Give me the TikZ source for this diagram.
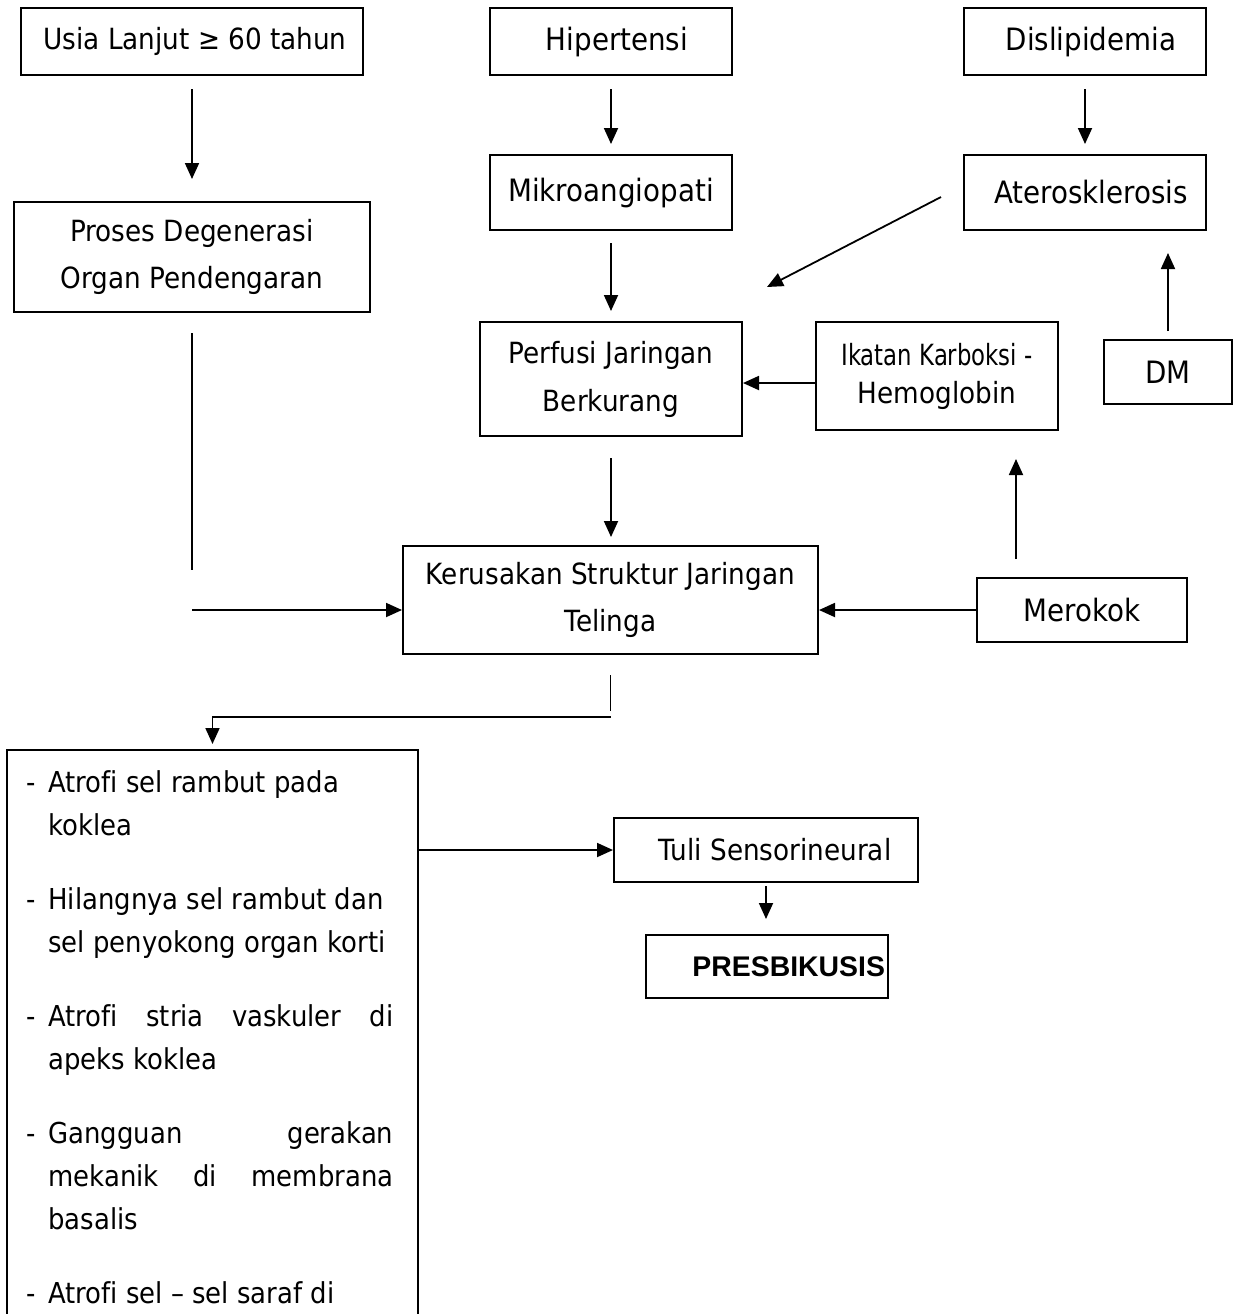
\documentclass[tikz,border=0pt]{standalone}
\usepackage{fontspec}
\setmainfont{DejaVu Sans}[FakeStretch=0.9, Ligatures=NoCommon]
\newfontfamily\sempit{DejaVu Sans}[FakeStretch=0.78]
\newfontfamily\tebal{Liberation Sans}
\usepackage{tikz}
\usetikzlibrary{arrows.meta, positioning}

\tikzset{
  kotak/.style={rectangle, draw, line width=1pt, inner sep=0pt, align=center, font=\fontsize{14.6}{23.5}\selectfont},
  besar/.style={font=\fontsize{15.4}{17}\selectfont},
  panah/.style={->, line width=0.9pt},
  garis/.style={line width=0.9pt},
  >={Triangle[length=8pt,width=7pt]}
}

\begin{document}
\begin{tikzpicture}[x=0.5pt, y=-0.5pt]
        \useasboundingbox (0,0) rectangle (1235,1314);
        \clip (0,0) rectangle (1235,1314);

        \node[kotak, minimum width=171pt, minimum height=33.5pt] (usia) at (192,41.5) {\hspace*{3pt}Usia Lanjut ≥ 60 tahun};
        \node[kotak, minimum width=178pt, minimum height=55pt] (proses) at (192,257) {Proses Degenerasi\\Organ Pendengaran};
        \node[kotak, besar, minimum width=121pt, minimum height=33.5pt] (hipertensi) at (611,41.5) {\hspace*{6pt}Hipertensi};
        \node[kotak, besar, minimum width=121pt, minimum height=37.5pt] (mikro) at (611,192.5) {Mikroangiopati};
        \node[kotak, besar, minimum width=121pt, minimum height=33.5pt] (dislip) at (1085,41.5) {\hspace*{6pt}Dislipidemia};
        \node[kotak, besar, minimum width=121pt, minimum height=37.5pt] (atero) at (1085,192.5) {\hspace*{6pt}Aterosklerosis};
        \node[kotak, minimum width=131pt, minimum height=57pt, font=\fontsize{14.6}{24}\selectfont] (perfusi) at (611,379) {Perfusi Jaringan\\Berkurang};
        \node[kotak, minimum width=121pt, minimum height=54pt, font=\fontsize{14.6}{19}\selectfont] (ikatan) at (937,376) {{\sempit Ikatan Karboksi -}\\Hemoglobin};
        \node[kotak, besar, minimum width=64pt, minimum height=32pt] (dm) at (1168,372) {DM};
        \node[kotak, minimum width=207.5pt, minimum height=54pt] (kerusakan) at (610.5,600) {Kerusakan Struktur Jaringan\\Telinga};
        \node[kotak, besar, minimum width=105pt, minimum height=32pt] (merokok) at (1082,610) {Merokok};
        \node[kotak, minimum width=205.5pt, minimum height=330pt] (dampak) at (212.5,1080) {};
        \node[kotak, minimum width=152pt, minimum height=32pt] (tuli) at (766,850) {\hspace*{9pt}Tuli Sensorineural};
        \node[kotak, minimum width=121pt, minimum height=31.5pt, text width=118pt, align=right, font=\fontsize{14.2}{17}\selectfont\tebal\bfseries] (presb) at (767,966.5) {PRESBIKUSIS};

        % isi kotak dampak
        \node[anchor=north west, inner sep=0pt, font=\fontsize{14.4}{21.5}\selectfont] (isi) at (26,762) {%
          \begin{tabular}{@{}p{11pt}@{}p{172.5pt}@{}}
            - & Atrofi sel rambut pada\\
              & koklea\\[15.5pt]
            - & Hilangnya sel rambut dan\\
              & sel penyokong organ korti\\[15.5pt]
            - & \makebox[\linewidth][s]{Atrofi stria vaskuler di}\\
              & apeks koklea\\[15.5pt]
            - & \makebox[\linewidth][s]{Gangguan gerakan}\\
              & \makebox[\linewidth][s]{mekanik di membrana}\\
              & basalis\\[15.5pt]
            - & Atrofi sel – sel saraf di
          \end{tabular}};

        \coordinate (ujungAtero) at (767,287);
        \coordinate (sudutProses) at (192,610);
        \path (kerusakan.south) ++(0,62) coordinate (cabang);

        \draw[panah, shorten <=6.5pt, shorten >=11pt] (usia) -- (proses);
        \draw[panah, shorten <=6.5pt, shorten >=5pt] (hipertensi) -- (mikro);
        \draw[panah, shorten <=6pt, shorten >=5pt] (mikro) -- (perfusi);
        \draw[panah, shorten <=6.5pt, shorten >=5pt] (dislip) -- (atero);
        \draw[panah] ([shift={(-22,4.5)}]atero.west) -- (ujungAtero);
        \draw[panah] ([yshift=-3.5pt]ikatan.west) -- ([yshift=-3.5pt]ikatan.west -| perfusi.east);
        \draw[panah, shorten <=4pt, shorten >=11pt] (dm.north) -- (dm.north |- atero.south);
        \draw[panah, shorten <=10.5pt, shorten >=4pt] (perfusi.south) -- (perfusi.south |- kerusakan.north);
        \draw[panah] (merokok.west) -- (merokok.west -| kerusakan.east);
        \draw[panah, shorten <=9pt, shorten >=14pt] ([xshift=20pt]merokok.north west) -- ([xshift=20pt]merokok.north west |- ikatan.south);
        \draw[garis, shorten <=10pt, shorten >=20pt] (proses.south) -- (sudutProses);
        \draw[panah] (sudutProses) -- (sudutProses -| kerusakan.west);
        \draw[garis, shorten <=10pt, shorten >=3pt] (kerusakan.south) -- (cabang);
        \draw[panah, shorten >=2.5pt] (cabang) -| (dampak.north);
        \draw[panah] (dampak.north east |- tuli.west) -- (tuli.west);
        \draw[panah, shorten <=1.5pt, shorten >=7.5pt] (tuli.south) -- (tuli.south |- presb.north);
    \end{tikzpicture}
\end{document}
